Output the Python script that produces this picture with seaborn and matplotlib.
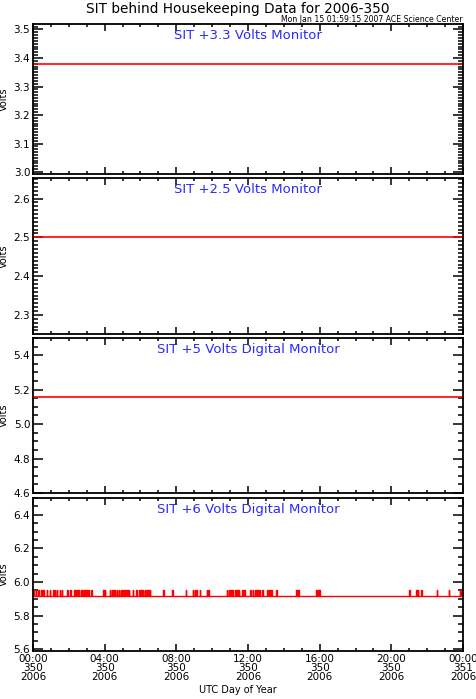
import numpy as np
import pandas as pd
import seaborn as sns
import matplotlib
matplotlib.use('Agg')
import matplotlib.pyplot as plt
from matplotlib.ticker import MultipleLocator

# --- data ---
hours = [0.0, 24.0]
v33 = [3.38, 3.38]
v25 = [2.50, 2.50]
v5d = [5.16, 5.16]
v6_base = 5.915
v6_spike = 5.95
# hours at which the +6V monitor jumps up one step
spike_hours = [0.05, 0.17, 0.33, 0.5, 0.61, 0.78, 0.95, 1.12, 1.23, 1.34, 1.51, 1.62,
               1.9, 1.95, 2.07, 2.34, 2.4, 2.46, 2.57, 2.73, 2.79, 2.9, 3.01, 3.12,
               3.24, 3.29, 3.91, 3.96, 4.02, 4.3, 4.41, 4.47, 4.58, 4.69, 4.8, 4.91,
               5.02, 5.08, 5.14, 5.25, 5.36, 5.58, 5.8, 5.92, 5.97, 6.08, 6.14, 6.25,
               6.36, 6.47, 6.53, 7.26, 7.81, 8.54, 8.93, 9.04, 9.15, 9.32, 9.71, 9.82,
               10.83, 10.94, 11.0, 11.16, 11.28, 11.39, 11.5, 11.67, 11.78, 12.12,
               12.28, 12.4, 12.51, 12.62, 12.79, 13.07, 13.18, 13.29, 13.57, 14.69,
               14.8, 15.81, 15.92, 15.98, 20.99, 21.38, 21.49, 21.66, 22.55, 23.22,
               23.83, 23.94]

panels = [
    ("SIT +3.3 Volts Monitor", v33, (2.993, 3.519), 0.1, 0.01),
    ("SIT +2.5 Volts Monitor", v25, (2.251, 2.653), 0.1, 0.01),
    ("SIT +5 Volts Digital Monitor", v5d, (4.6, 5.5), 0.2, 0.05),
    ("SIT +6 Volts Digital Monitor", None, (5.59, 6.5), 0.2, 0.05),
]
xtick_hours = [0, 4, 8, 12, 16, 20, 24]
xtick_labels = ["00:00\n350\n2006", "04:00\n350\n2006", "08:00\n350\n2006",
                "12:00\n350\n2006", "16:00\n350\n2006", "20:00\n350\n2006",
                "00:00\n351\n2006"]

sns.set_style("ticks")
plt.rcParams['font.family'] = ['DejaVu Sans']
plt.rcParams['text.color'] = 'black'
plt.rcParams['axes.labelcolor'] = 'black'
plt.rcParams['xtick.color'] = 'black'
plt.rcParams['ytick.color'] = 'black'

fig = plt.figure(figsize=(4.76, 6.99), dpi=100)
# axes rectangles [left, bottom, width, height] in figure fraction
boxes = [
    [0.0693, 0.7510, 0.9034, 0.2146],
    [0.0693, 0.5222, 0.9034, 0.2232],
    [0.0693, 0.2947, 0.9034, 0.2218],
    [0.0693, 0.0687, 0.9034, 0.2189],
]

red = "#ff0000"
for i, (name, vals, ylim, major, minor) in enumerate(panels):
    ax = fig.add_axes(boxes[i])
    if vals is not None:
        df = pd.DataFrame({"hour": hours, "volts": vals})
        sns.lineplot(data=df, x="hour", y="volts", ax=ax, color=red, lw=1.2)
    else:
        # build step series from spike times
        xs, ys = [0.0], [v6_base]
        w = 0.025
        for t in spike_hours:
            xs += [t - w, t - w, t + w, t + w]
            ys += [v6_base, v6_spike, v6_spike, v6_base]
        xs.append(24.0)
        ys.append(v6_base)
        df = pd.DataFrame({"hour": xs, "volts": ys})
        sns.lineplot(data=df, x="hour", y="volts", ax=ax, color=red, lw=1.0,
                     sort=False, estimator=None)
    ax.set_xlim(0, 24)
    ax.set_ylim(*ylim)
    ax.yaxis.set_major_locator(MultipleLocator(major))
    ax.yaxis.set_minor_locator(MultipleLocator(minor))
    ax.yaxis.set_major_formatter(matplotlib.ticker.FormatStrFormatter("%.1f"))
    ax.set_xticks(xtick_hours)
    ax.xaxis.set_minor_locator(MultipleLocator(1))
    ax.tick_params(which="both", direction="in", top=True, right=True,
                   width=1.1, color="black", labelsize=7.5, pad=2)
    ax.tick_params(axis="y", which="major", length=7)
    ax.tick_params(axis="y", which="minor", length=3.5)
    ax.tick_params(axis="x", which="major", length=5)
    ax.tick_params(axis="x", which="minor", length=2.5)
    for s in ax.spines.values():
        s.set_visible(True)
        s.set_linewidth(1.3)
        s.set_color("black")
    ax.set_ylabel("Volts", fontsize=7)
    ax.yaxis.set_label_coords(-0.056, 0.5)
    ax.set_xlabel("")
    if i < 3:
        ax.set_xticklabels([])
    else:
        ax.set_xticklabels(xtick_labels, fontsize=7.5, linespacing=0.9)
    ax.text(0.5, 0.97, name, transform=ax.transAxes, ha="center", va="top",
            color="#2a2aff", fontsize=9.5)

fig.text(0.5, 1 - 8.5 / 699, "SIT behind Housekeeping Data for 2006-350", ha="center",
         va="center", fontsize=9.8)
fig.text(0.972, 1 - 24 / 699, "Mon Jan 15 01:59:15 2007 ACE Science Center",
         ha="right", va="bottom", fontsize=5.6)
fig.text(0.5, 1 - 690 / 699, "UTC Day of Year", ha="center", va="center",
         fontsize=7)

fig.savefig("out.png", dpi=100)
